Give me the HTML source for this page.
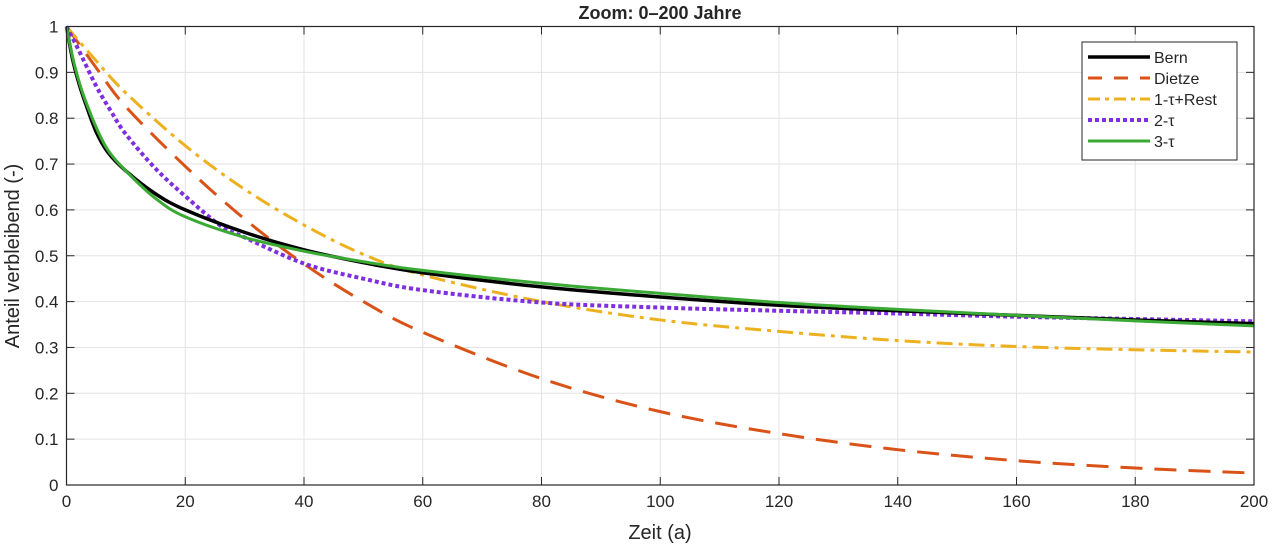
<!DOCTYPE html>
<html><head><meta charset="utf-8"><style>
body{margin:0;background:#fff;font-family:"Liberation Sans",sans-serif}
svg{display:block}
text{font-family:"Liberation Sans",sans-serif;fill:#262626}
</style></head><body>
<svg id="chart" width="1273" height="547"></svg>
<script>
const tB=[0,1,2,3,5,7,10,15,20,30,40,50,60,80,100,120,140,160,180,200];
const bern=[1,0.93,0.88,0.84,0.77,0.725,0.685,0.635,0.6,0.551,0.513,0.485,0.463,0.432,0.41,0.392,0.38,0.37,0.36,0.352];
const three=[1,0.935,0.885,0.845,0.78,0.73,0.685,0.625,0.585,0.54,0.51,0.487,0.468,0.44,0.418,0.398,0.383,0.37,0.358,0.347];
const tD=[0,5,10,20,30,40,50,60,80,100,120,140,160,180,200];
const dietze=[1,0.91,0.825,0.695,0.58,0.482,0.4,0.333,0.232,0.16,0.112,0.077,0.053,0.037,0.026];
const tY=[0,5,10,20,30,40,50,60,80,100,120,140,160,180,200];
const rest=[1,0.925,0.855,0.74,0.645,0.567,0.503,0.458,0.4,0.36,0.335,0.315,0.302,0.295,0.29];
const tP=[0,2,5,7.5,10,15,20,26,30,40,50,60,80,100,120,140,160,180,200];
const two=[1,0.95,0.87,0.815,0.765,0.69,0.63,0.565,0.54,0.483,0.45,0.425,0.398,0.387,0.38,0.374,0.367,0.362,0.357];
const xTicks=[0,20,40,60,80,100,120,140,160,180,200];
const yTicks=[0,0.1,0.2,0.3,0.4,0.5,0.6,0.7,0.8,0.9,1];
const L=66.5,R=1254,T=26.5,B=485;
const X=t=>L+t/200*(R-L), Y=v=>B-v*(B-T);
const svg=document.getElementById('chart');const NS='http://www.w3.org/2000/svg';
function mk(tag,at,txt){const e=document.createElementNS(NS,tag);for(const k in at)e.setAttribute(k,at[k]);if(txt!==undefined)e.textContent=txt;svg.appendChild(e);return e;}
xTicks.forEach(t=>{let g=mk('line',{x1:X(t),x2:X(t),y1:T,y2:B,stroke:'#e3e3e3'});


let tk=mk('line',{x1:X(t),x2:X(t),y1:B,y2:B-8,stroke:'#262626'});


let tk2=mk('line',{x1:X(t),x2:X(t),y1:T,y2:T+8,stroke:'#262626'});


let l=mk('text',{x:X(t),y:B+22,'text-anchor':'middle','font-size':17},String(t));

});
yTicks.forEach(v=>{let g=mk('line',{x1:L,x2:R,y1:Y(v),y2:Y(v),stroke:'#e3e3e3'});


let tk=mk('line',{x1:L,x2:L+8,y1:Y(v),y2:Y(v),stroke:'#262626'});


let tk2=mk('line',{x1:R,x2:R-8,y1:Y(v),y2:Y(v),stroke:'#262626'});


let l=mk('text',{x:L-8,y:Y(v)+6,'text-anchor':'end','font-size':17},String(v));

});
function smooth(ts,vs){const p=ts.map((t,i)=>[X(t),Y(vs[i])]);let d='M'+p[0][0]+','+p[0][1];
for(let i=0;i<p.length-1;i++){const p0=p[i-1]||p[i],p1=p[i],p2=p[i+1],p3=p[i+2]||p2;
const c1=[p1[0]+(p2[0]-p0[0])/6,p1[1]+(p2[1]-p0[1])/6],c2=[p2[0]-(p3[0]-p1[0])/6,p2[1]-(p3[1]-p1[1])/6];
d+=' C'+c1[0]+','+c1[1]+' '+c2[0]+','+c2[1]+' '+p2[0]+','+p2[1];}return d;}
function line(ts,vs,col,w,dash,name){const p=mk('path',{d:smooth(ts,vs),fill:'none',stroke:col,'stroke-width':w,'stroke-dasharray':dash,'stroke-linejoin':'round'});

}
line(tD,dietze,'#d95319',3,'22 12','series-dietze');
line(tY,rest,'#edb120',3,'16 6 4 6','series-1tau-rest');
line(tP,two,'#7e2fe0',4,'4 3','series-2tau');
line(tB,bern,'#000000',3.5,'none','series-bern');
line(tB,three,'#3aaa35',3,'none','series-3tau');
let box=mk('rect',{x:L,y:T,width:R-L,height:B-T,fill:'none',stroke:'#262626','stroke-width':1.2});


let tt=mk('text',{x:660,y:19,'text-anchor':'middle','font-size':18,'font-weight':'bold'},'Zoom: 0–200 Jahre');


let xl=mk('text',{x:660,y:539,'text-anchor':'middle','font-size':20},'Zeit (a)');


let yl=mk('text',{x:0,y:0,'text-anchor':'middle','font-size':20,transform:'translate(19,256) rotate(-90)'},'Anteil verbleibend (-)');


let lg=mk('rect',{x:1082,y:42,width:155,height:118,fill:'#fff',stroke:'#262626','stroke-width':1});


const legNames=['Bern','Dietze','1-τ+Rest','2-τ','3-τ'];
const legCols=['#000','#d95319','#edb120','#7e2fe0','#3aaa35'];
const legDash=['none','14 12','12 5 4 5','4 3','none'];
const legW=[3.5,3,3,4,3];
legNames.forEach((n,i)=>{const y=57+i*21;
let s=mk('line',{x1:1088,x2:1150,y1:y,y2:y,stroke:legCols[i],'stroke-width':legW[i],'stroke-dasharray':legDash[i]});


let t=mk('text',{x:1154,y:y+6,'font-size':16},n);

});
</script>
</body></html>
